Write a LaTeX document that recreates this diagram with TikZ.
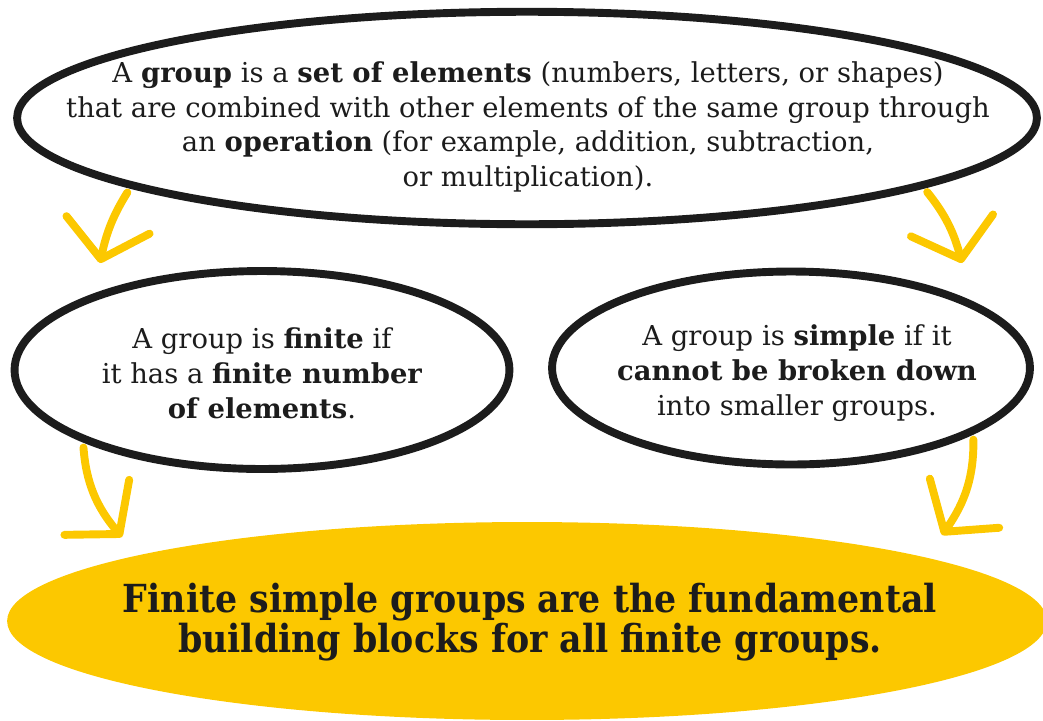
\documentclass[tikz,border=0pt]{standalone}
\usepackage{fontspec}
\setmainfont{DejaVu Serif}
\newfontfamily\headfont{DejaVu Serif Condensed}
\usetikzlibrary{arrows.meta,shapes.geometric}
\definecolor{grpyellow}{RGB}{252,200,0}
\definecolor{inkblack}{RGB}{28,28,28}

\begin{document}
\begin{tikzpicture}[x=0.02cm,y=-0.02cm,bubble/.style={ellipse,draw=inkblack,fill=white,line width=4.5pt,inner sep=0pt},txt/.style={align=center,text=inkblack,font=\fontsize{15.6}{19.8}\selectfont},arr/.style={draw=grpyellow,line width=4.5pt,line cap=round,shorten <=3pt,-{Straight Barb[length=7mm,width=17mm,round]}}]
\useasboundingbox (0,0) rectangle (1043,720);

% ovals
\node[bubble,minimum width=20.4cm,minimum height=4.25cm] (top) at(527,118) {};
\node[bubble,minimum width=9.9cm,minimum height=3.96cm] (left) at(262,370) {};
\node[bubble,minimum width=9.56cm,minimum height=3.86cm] (right) at(791,368) {};
\node[ellipse,fill=grpyellow,minimum width=20.8cm,minimum height=3.96cm,inner sep=0pt] (goal) at(527,621) {};

% texts
\node[txt] (toptext) at(528,127) {A \textbf{group} is a \textbf{set of elements} (numbers, letters, or shapes)\\that are combined with other elements of the same group through\\an \textbf{operation} (for example, addition, subtraction,\\or multiplication).};
\node[txt] (lefttext) at(262,373) {A group is \textbf{finite} if\\it has a \textbf{finite number}\\\textbf{of elements}.};
\node[txt] (righttext) at(797,373) {A group is \textbf{simple} if it\\\textbf{cannot be broken down}\\into smaller groups.};
\node[align=center,text=inkblack,font=\headfont\bfseries\fontsize{22}{21.5}\selectfont] (goaltext) at(530,622) {Finite simple groups are the fundamental\\building blocks for all finite groups.};

% arrows
\coordinate (tipa) at(100,263);
\coordinate (tipb) at(962,263);
\coordinate (tipc) at(122,537);
\coordinate (tipd) at(942,535);
\draw[arr] (top.190) to[bend right=10] (tipa);
\draw[arr] (top.350) to[bend left=12] (tipb);
\draw[arr] (left.202) to[bend right=18] (tipc);
\draw[arr] (right.340) to[bend left=18] (tipd);
\end{tikzpicture}
\end{document}
